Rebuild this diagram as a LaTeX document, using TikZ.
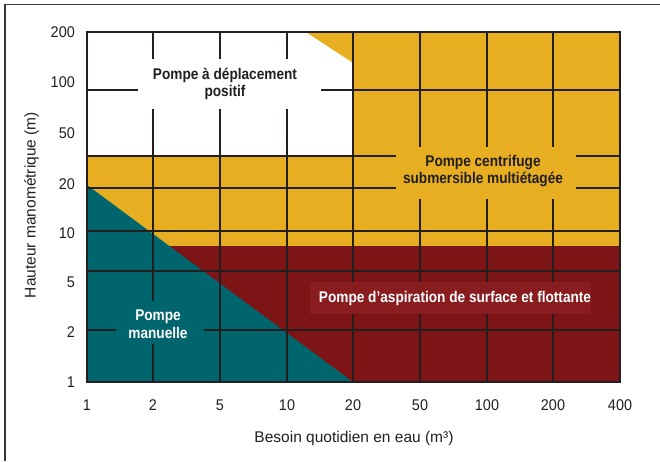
\documentclass[tikz,border=0pt]{standalone}
\usepackage{fontspec}
\setmainfont{Liberation Sans}
\newfontfamily\tickfont{Liberation Sans}[FakeStretch=0.93]
\newfontfamily\lblfont{Liberation Sans}[FakeStretch=0.88]
\definecolor{cyel}{HTML}{E7AE22}
\definecolor{cteal}{HTML}{00656D}
\definecolor{cred}{HTML}{7D1517}
\definecolor{cbox}{HTML}{881C1E}
\definecolor{cink}{HTML}{231F20}
\tikzset{
  gridline/.style={cink, line width=2pt},
  ticklbl/.style={inner sep=0pt, text=cink, font=\tickfont\fontsize{15.5}{17}\selectfont},
  axtitle/.style={inner sep=0pt, text=cink, font=\fontsize{15.5}{18}\selectfont},
  zone/.style={inner sep=0pt, align=center, font=\lblfont\bfseries\fontsize{15.5}{17.5}\selectfont},
}
\begin{document}
\begin{tikzpicture}[x=1pt,y=-1pt]
\useasboundingbox (0,0) rectangle (660,461);
% outer frame (partly visible)
\draw[cink!90, line width=1.3pt] (5,461) -- (5,4.6) -- (660,4.6);
% regions
\fill[cyel] (87,31.7) rectangle (620,382);
\fill[white] (87,31.7) -- (305,31.7) -- (353,63) -- (353,155.7) -- (87,155.7) -- cycle;
\fill[cred] (87,246) rectangle (620,382);
\fill[cteal] (87,185) -- (353,382) -- (87,382) -- cycle;
\fill[cbox] (310,282) rectangle (591,314);
% vertical grid lines
\draw[gridline] (153,31.7) -- (153,59) (153,109) -- (153,301) (153,344) -- (153,382);
\foreach \x in {220,287}
  \draw[gridline] (\x,31.7) -- (\x,59) (\x,109) -- (\x,382);
\draw[gridline] (353,31.7) -- (353,282) (353,314) -- (353,382);
\foreach \x in {420,487,553}
  \draw[gridline] (\x,31.7) -- (\x,147) (\x,199) -- (\x,282) (\x,314) -- (\x,382);
% horizontal grid lines
\draw[gridline] (87,90) -- (138,90) (321,90) -- (620,90);
\foreach \y in {155.7,188}
  \draw[gridline] (87,\y) -- (396,\y) (576,\y) -- (620,\y);
\draw[gridline] (87,230.7) -- (620,230.7);
\draw[gridline] (87,271) -- (620,271);
\draw[gridline] (87,330) -- (116,330) (204,330) -- (620,330);
% plot border
\draw[gridline] (87,31.7) rectangle (620,382);
% zone labels
\node[zone, text=cink] (zpd) at (225,84) {Pompe à déplacement\\positif};
\node[zone, text=cink] (zcs) at (483,171) {Pompe centrifuge\\submersible multiétagée};
\node[zone, text=white] (zpm) at (158,324) {Pompe\\manuelle};
\node[zone, text=white] (zas) at (455,298) {Pompe d’aspiration de surface et flottante};
% x tick labels
\foreach \x/\t [count=\i] in {87/1,153/2,220/5,287/10,353/20,420/50,487/100,553/200,620/400}
  \node[ticklbl] (xt\i) at (\x,405) {\t};
% y tick labels
\foreach \y/\t [count=\i] in {32/200,82.5/100,133/50,184/20,233/10,282/5,332/2,382/1}
  \node[ticklbl, anchor=east] (yt\i) at (75,\y) {\t};
% axis titles
\node[axtitle] (xtitle) at (354,438) {Besoin quotidien en eau (m³)};
\node[axtitle, rotate=90] (ytitle) at (31.5,205) {Hauteur manométrique (m)};
\end{tikzpicture}
\end{document}
